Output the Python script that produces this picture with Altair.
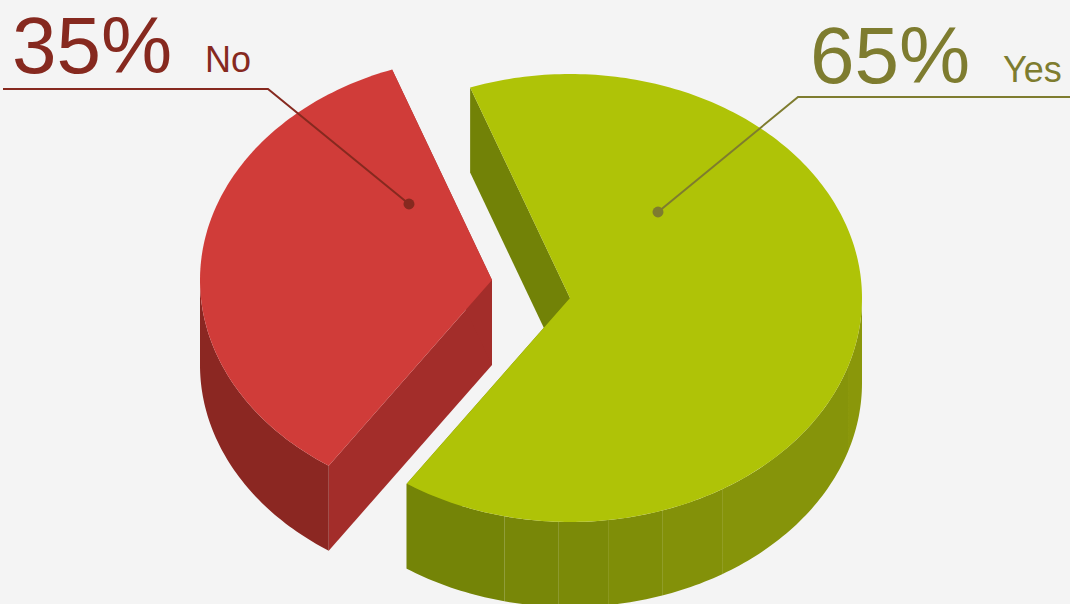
import math
import altair as alt
import pandas as pd

# ---------------- data ----------------
labels = ["Yes", "No"]
percents = [65, 35]
pct_text = ["65%", "35%"]

# ---------------- styles ----------------
top_colors = ["#AFC307", "#D03C39"]
cut_colors = ["#728207", "#A32D2A"]
wall_light = ["#8A970A", "#8B2722"]
wall_dark = ["#748407", "#8B2722"]
text_colors = ["#7E7C2F", "#86291F"]
BG = "#F4F4F4"
# angles (deg, screen clockwise from +x) where the outer wall is split into facets
wall_seams = {"Yes": [17.8, 58.6, 71.6, 82.5, 92.2, 103.0], "No": []}

# ---------------- layout (pixels) ----------------
W, H = 1070, 604
CX, CY = 570, 298          # pie centre (top face)
RX, RY = 292, 224          # top ellipse radii
DEPTH = 85                 # thickness of the pie
START = 250                # start angle, degrees clockwise from +x (screen)
EXPLODE = {"Yes": (0, 0), "No": (-78, -18)}

# label layout: big text pos, small text pos, leader polyline (end, elbow, dot)
label_layout = {
    "Yes": dict(big=(810, 83), small=(1003, 82), line=[(1072, 97), (798, 97), (658, 212)]),
    "No": dict(big=(12, 73), small=(205, 72), line=[(3, 89), (268, 89), (409, 204)]),
}


def hex_mix(c1, c2, f):
    a = [int(c1[i:i + 2], 16) for i in (1, 3, 5)]
    b = [int(c2[i:i + 2], 16) for i in (1, 3, 5)]
    return "#" + "".join(f"{round(x + (y - x) * f):02X}" for x, y in zip(a, b))


def pt(cx, cy, a, dz=0):
    r = math.radians(a)
    return [cx + RX * math.cos(r), cy + RY * math.sin(r) + dz]


def arc(cx, cy, a0, a1, dz=0):
    n = max(2, int(abs(a1 - a0)) + 1)
    return [pt(cx, cy, a0 + (a1 - a0) * k / (n - 1), dz) for k in range(n)]


def feature(ring, fill, layer):
    ring = ring + [ring[0]]
    return {"type": "Feature", "properties": {"fill": fill, "layer": layer},
            "geometry": {"type": "Polygon", "coordinates": [ring]}}


cuts, walls, tops = [], [], []
total = sum(percents)
acc = 0.0
for i, (lab, p) in enumerate(zip(labels, percents)):
    a0 = START + acc / total * 360
    a1 = a0 + p / total * 360
    acc += p
    ex, ey = EXPLODE[lab]
    cx, cy = CX + ex, CY + ey
    apex = [cx, cy]
    apex_b = [cx, cy + DEPTH]
    # radial cut faces
    for e in (a0, a1):
        cuts.append(feature([apex, pt(cx, cy, e), pt(cx, cy, e, DEPTH), apex_b], cut_colors[i], 0))
    # outer wall, front (visible) part only
    for k in range(-1, 3):
        lo, hi = max(a0, 360 * k), min(a1, 360 * k + 180)
        if hi <= lo:
            continue
        cuts_at = [lo] + sorted(s + 360 * k for s in wall_seams[lab] if lo < s + 360 * k < hi) + [hi]
        nseg = len(cuts_at) - 1
        for s in range(nseg):
            s0, s1 = cuts_at[s], cuts_at[s + 1]
            f = s / max(1, nseg - 1)
            col = hex_mix(wall_light[i], wall_dark[i], f)
            ring = arc(cx, cy, s0, s1) + arc(cx, cy, s1, s0, DEPTH)
            walls.append(feature(ring, col, 1))
    # top face
    tops.append(feature([apex] + arc(cx, cy, a0, a1), top_colors[i], 2))

features = cuts + walls + tops

pie = alt.Chart(alt.Data(values=features)).mark_geoshape(
    stroke="transparent", strokeWidth=0
).encode(
    fill=alt.Fill("properties.fill:N", scale=None)
).project(type="identity", scale=1, translate=[0, 0])

# label tables built from data + layout
rows_big, rows_small, rows_line, rows_dot = [], [], [], []
for i, lab in enumerate(labels):
    L = label_layout[lab]
    rows_big.append(dict(label=lab, text=pct_text[i], lon=L["big"][0], lat=L["big"][1], col=text_colors[i]))
    rows_small.append(dict(label=lab, text=lab, lon=L["small"][0], lat=L["small"][1], col=text_colors[i]))
    for j, (x, y) in enumerate(L["line"]):
        rows_line.append(dict(label=lab, idx=j, lon=x, lat=y, col=text_colors[i]))
    rows_dot.append(dict(label=lab, lon=L["line"][-1][0], lat=L["line"][-1][1], col=text_colors[i]))

big = alt.Chart(pd.DataFrame(rows_big)).mark_text(
    align="left", baseline="alphabetic", font="Liberation Sans", fontSize=80
).encode(
    longitude="lon:Q", latitude="lat:Q", text="text:N",
    color=alt.Color("col:N", scale=None)
).project(type="identity", scale=1, translate=[0, 0])

small = alt.Chart(pd.DataFrame(rows_small)).mark_text(
    align="left", baseline="alphabetic", font="Liberation Sans", fontSize=36
).encode(
    longitude="lon:Q", latitude="lat:Q", text="text:N",
    color=alt.Color("col:N", scale=None)
).project(type="identity", scale=1, translate=[0, 0])

lines = alt.Chart(pd.DataFrame(rows_line)).mark_line(strokeWidth=2).encode(
    longitude="lon:Q", latitude="lat:Q", detail="label:N", order="idx:Q",
    color=alt.Color("col:N", scale=None)
).project(type="identity", scale=1, translate=[0, 0])

dots = alt.Chart(pd.DataFrame(rows_dot)).mark_circle(size=120, opacity=1).encode(
    longitude="lon:Q", latitude="lat:Q",
    color=alt.Color("col:N", scale=None)
).project(type="identity", scale=1, translate=[0, 0])

chart = alt.layer(pie, lines, dots, big, small).properties(
    width=W, height=H, background=BG, padding=0, autosize=alt.AutoSizeParams(type="none")
).configure_view(stroke=None, fill=BG)

chart.save("out.html", embed_options={"renderer": "svg", "actions": False})
